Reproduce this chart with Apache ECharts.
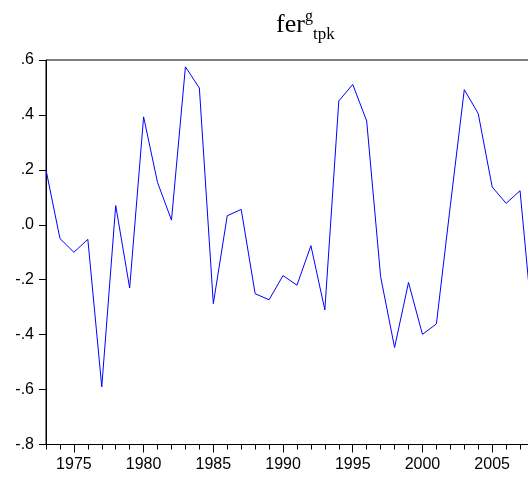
<!DOCTYPE html>
<html>
<head>
<meta charset="utf-8">
<script src="https://cdn.jsdelivr.net/npm/echarts@6/dist/echarts.min.js"></script>
<style>
html,body{margin:0;padding:0;background:#fff;}
#chart{width:528px;height:481px;}
</style>
</head>
<body>
<div id="chart"></div>
<script>
const years = [1973,1974,1975,1976,1977,1978,1979,1980,1981,1982,1983,1984,1985,1986,1987,1988,1989,1990,1991,1992,1993,1994,1995,1996,1997,1998,1999,2000,2001,2002,2003,2004,2005,2006,2007,2008];
const ferValues = [0.20,-0.05,-0.10,-0.053,-0.59,0.07,-0.23,0.393,0.154,0.017,0.575,0.498,-0.287,0.033,0.056,-0.251,-0.273,-0.185,-0.22,-0.076,-0.31,0.451,0.511,0.378,-0.189,-0.447,-0.21,-0.399,-0.361,0.07,0.492,0.405,0.138,0.078,0.124,-0.42];
const yTicks = {min:-0.8, max:0.6, step:0.2};
const titleParts = {main:'fer', sup:'g', sub:'tpk'};

const chart = echarts.init(document.getElementById('chart'), null, {renderer:'canvas'});
const sans = 'Liberation Sans, Arial, sans-serif';
const serif = 'Liberation Serif, Times New Roman, serif';
function fmtY(v){
  let s = v.toFixed(1);
  s = s.replace(/^(-?)0\./, '$1.');
  return s;
}
const yearStr = years.map(String);
chart.setOption({
  animation:false,
  backgroundColor:'#fff',
  grid:{left:46, top:60, width:488, bottom:36.5, outerBoundsMode:'none', containLabel:false, show:true, borderColor:'#000', borderWidth:1, backgroundColor:'transparent'},
  graphic:[
    {type:'text', left:276, top:12, style:{text:titleParts.main, font:'26px '+serif, fill:'#000'}},
    {type:'text', left:305, top:9, style:{text:titleParts.sup, font:'16px '+serif, fill:'#000'}},
    {type:'text', left:313, top:26, style:{text:titleParts.sub, font:'17px '+serif, fill:'#000'}}
  ],
  xAxis:[{
    type:'category', data:yearStr, boundaryGap:false, position:'bottom',
    axisLine:{show:true, onZero:false, lineStyle:{color:'#000', width:1}},
    axisTick:{show:true, interval:0, length:5, inside:false, lineStyle:{color:'#000'}},
    axisLabel:{interval:function(i,v){return Number(v)%5===0;}, margin:12, color:'#000', fontSize:16, fontFamily:sans},
    splitLine:{show:false}
  },{
    type:'category', data:yearStr, boundaryGap:false, position:'bottom', offset:0,
    axisLine:{show:false, onZero:false},
    axisTick:{show:true, interval:function(i,v){return Number(v)%5===0;}, length:8, lineStyle:{color:'#000'}},
    axisLabel:{show:false},
    splitLine:{show:false}
  }],
  yAxis:{
    type:'value', min:yTicks.min, max:yTicks.max, interval:yTicks.step,
    axisLine:{show:true, lineStyle:{color:'#000', width:1}},
    axisTick:{show:true, length:7, lineStyle:{color:'#000'}},
    axisLabel:{formatter:fmtY, margin:12, color:'#000', fontSize:16, fontFamily:sans},
    splitLine:{show:false}
  },
  series:[{
    type:'line', data:ferValues, xAxisIndex:0, showSymbol:false, symbol:'none',
    lineStyle:{color:'#0000ff', width:1}, clip:true
  }]
});
</script>
</body>
</html>
